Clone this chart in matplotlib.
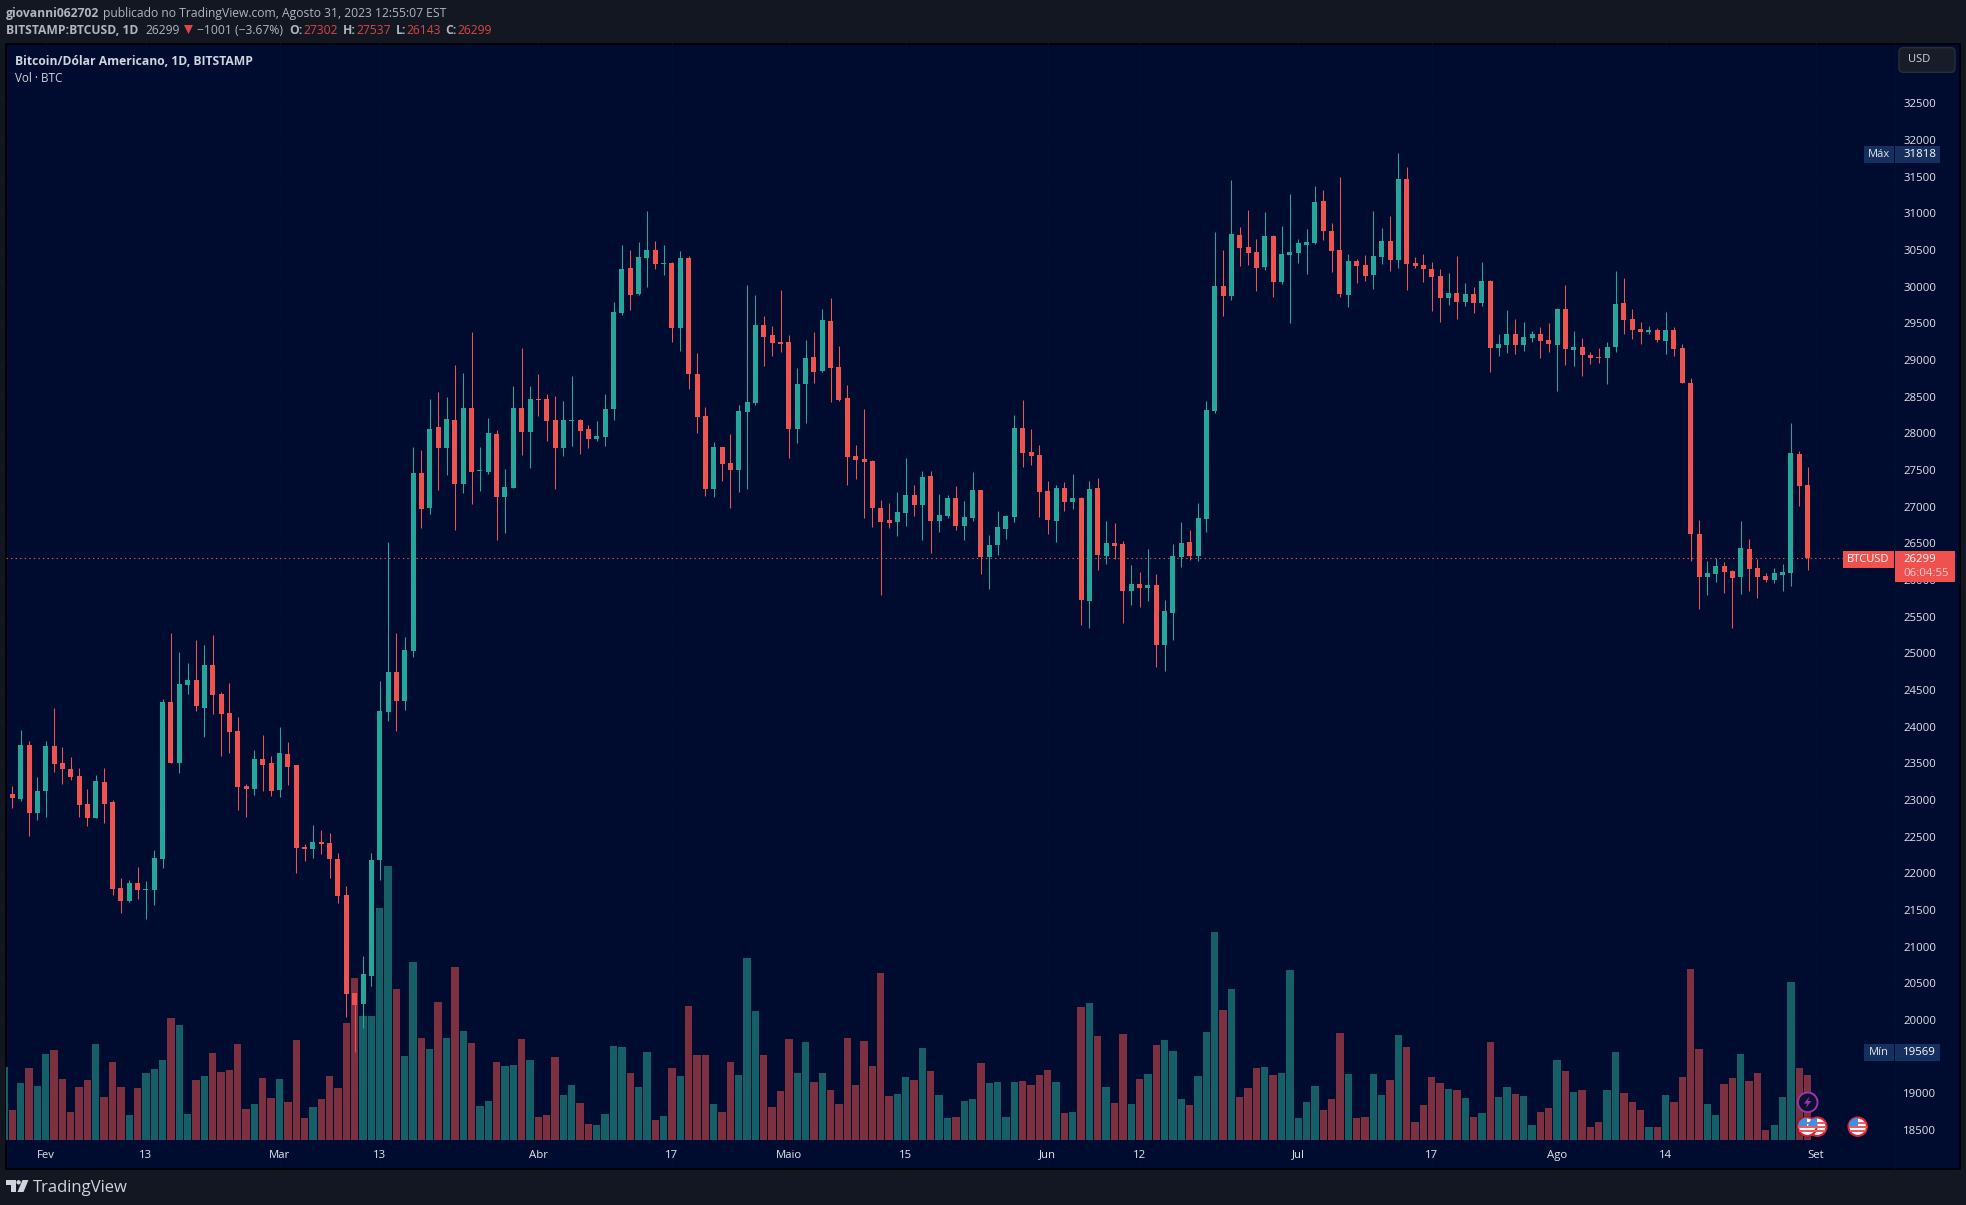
"""Recreate the BTCUSD daily candlestick chart as published on TradingView."""

from __future__ import annotations

import numpy as np
import pandas as pd
import matplotlib

matplotlib.use("Agg")
import matplotlib.pyplot as plt
from matplotlib.patches import Circle, FancyBboxPatch, Polygon, Rectangle

WIDTH, HEIGHT = 1966, 1205

BG = "#131722"
PANE = "#000c2f"
GRID = "#020f33"
UP = "#26a69a"
DOWN = "#ef5350"
UP_VOL = "#175f67"
DOWN_VOL = "#7d3040"
TEXT = "#d1d4dc"
TICK_TEXT = "#e3e5ec"
HEADER = "#b2b5be"
HEADER_RED = "#d9474a"
BADGE = "#14305f"

FIRST_DAY = "2023-01-28"

opens = [
    23082, 23014, 23750, 22823, 23123, 23736, 23504, 23423, 23327, 22945,
    22755, 23245, 22973, 21800, 21623, 21868, 21773, 21773, 22195, 24336,
    23504, 24568, 24636, 24254, 24841, 24445, 24186, 23941, 23191, 23150,
    23559, 23504, 23136, 23627, 23477, 22359, 22332, 22427, 22414, 22195,
    21705, 20368, 20218, 20600, 22182, 24200, 24745, 24350, 25032, 27460,
    26982, 28087, 27800, 28182, 27310, 28346, 27487, 27473, 27991, 27132,
    27255, 28346, 28019, 28469, 28469, 28182, 27800, 28168, 28182, 28060,
    27923, 27950, 28332, 29641, 30255, 29900, 30391, 30500, 30309, 30323,
    29437, 30391, 28809, 28237, 27241, 27814, 27596, 27500, 28291, 28414,
    29478, 29341, 29246, 29246, 28060, 28673, 29041, 28850, 29532, 28905,
    28483, 27692, 27651, 27624, 26983, 26819, 26792, 26914, 27160, 27024,
    27419, 26806, 26874, 27119, 26737, 26846, 27228, 26315, 26478, 26696,
    26860, 28074, 27746, 27705, 27215, 26806, 27255, 27064, 27119, 25715,
    27255, 26328, 26506, 26492, 25851, 25946, 25892, 25933, 25115, 25551,
    26315, 26519, 26328, 26833, 28305, 30009, 29873, 30705, 30541, 30473,
    30268, 30691, 30064, 30432, 30459, 30568, 30596, 31168, 30759, 30500,
    29887, 30350, 30296, 30159, 30405, 30623, 30364, 31468, 30323, 30296,
    30241, 30146, 29846, 29914, 29791, 29900, 29778, 30077, 29164, 29205,
    29355, 29205, 29300, 29355, 29273, 29205, 29696, 29136, 29178, 29068,
    29041, 29027, 29178, 29777, 29559, 29423, 29382, 29409, 29259, 29409,
    29164, 28687, 26628, 26041, 26082, 26191, 26123, 26041, 26423, 26164,
    26055, 26000, 26068, 26096, 27718, 27302,
]
highs = [
    23191, 23954, 23804, 23314, 23804, 24254, 23723, 23586, 23436, 23150,
    23341, 23436, 23000, 21936, 21909, 22086, 21895, 22318, 24377, 25277,
    25018, 24868, 25182, 25113, 25250, 24473, 24595, 24132, 23218, 23682,
    23886, 23600, 23995, 23791, 23477, 22400, 22659, 22591, 22550, 22277,
    21827, 20368, 20873, 22277, 24623, 26524, 25277, 25223, 27814, 27773,
    28469, 28564, 28496, 28932, 28823, 29382, 27814, 28209, 28046, 27514,
    28646, 29164, 28646, 28809, 28537, 28509, 28441, 28782, 28196, 28114,
    28168, 28537, 29791, 30568, 30500, 30609, 31032, 30623, 30568, 30337,
    30487, 30418, 29096, 28359, 27882, 27814, 27991, 28387, 30023, 29887,
    29600, 29464, 29955, 29341, 28891, 29273, 29382, 29696, 29846, 29191,
    28660, 27842, 28333, 27637, 27092, 27051, 27201, 27664, 27296, 27487,
    27487, 27174, 27160, 27283, 27078, 27474, 27228, 26615, 26942, 26887,
    28251, 28455, 28060, 27842, 27351, 27296, 27337, 27446, 27133, 27351,
    27392, 26805, 26778, 26533, 26206, 26110, 26424, 26083, 25728, 26492,
    26792, 26683, 27051, 28442, 30746, 30500, 31455, 30814, 31045, 30650,
    31018, 30705, 30827, 31264, 30650, 30786, 31373, 31318, 30868, 31495,
    30446, 30377, 30432, 31032, 30800, 30964, 31818, 31632, 30405, 30446,
    30337, 30241, 30187, 30418, 30050, 29996, 30337, 30091, 29355, 29682,
    29559, 29518, 29396, 29450, 29505, 29709, 30023, 29396, 29300, 29109,
    29164, 29245, 30214, 30118, 29696, 29518, 29464, 29436, 29655, 29450,
    29218, 28755, 26818, 26260, 26300, 26246, 26137, 26805, 26559, 26287,
    26096, 26164, 26218, 28141, 27759, 27537,
]
lows = [
    22891, 22986, 22509, 22727, 22768, 23382, 23218, 23273, 22768, 22646,
    22755, 22686, 21705, 21459, 21609, 21650, 21377, 21568, 22073, 23504,
    23368, 24445, 24213, 23859, 24173, 23600, 23641, 22864, 22768, 23068,
    23123, 23055, 23041, 23205, 22005, 22168, 22209, 22264, 21936, 21595,
    20041, 19569, 19895, 20464, 21909, 24077, 23941, 24227, 24950, 26710,
    26900, 27228, 27432, 26682, 27187, 27037, 27214, 27446, 26546, 26641,
    27255, 27705, 27528, 28237, 27896, 27241, 27691, 27828, 27719, 27800,
    27896, 27828, 28182, 29614, 29682, 29887, 29996, 30241, 30159, 29246,
    29123, 28605, 28005, 27146, 27132, 27350, 26982, 27200, 27241, 28387,
    28918, 29055, 29109, 27664, 27869, 28141, 28687, 28837, 28428, 28442,
    27296, 27378, 26846, 26724, 25796, 26710, 26601, 26737, 26874, 26546,
    26369, 26655, 26846, 26683, 26546, 26805, 26083, 25878, 26342, 26560,
    26792, 27542, 27569, 26860, 26628, 26519, 26942, 26969, 25387, 25346,
    26137, 26219, 26287, 25415, 25660, 25633, 25715, 24815, 24760, 25183,
    26178, 26274, 26260, 26655, 28278, 29600, 29818, 30282, 30296, 29941,
    30227, 29859, 30036, 29505, 30323, 30173, 30582, 30636, 30200, 29859,
    29723, 30050, 30077, 29968, 30309, 30214, 30255, 29955, 30255, 30064,
    29668, 29518, 29750, 29559, 29737, 29641, 29737, 28837, 29055, 29096,
    29082, 29123, 29246, 29028, 29109, 28578, 28932, 28918, 28782, 28946,
    28959, 28673, 29109, 29355, 29286, 29218, 29355, 29246, 29082, 29055,
    28687, 26260, 25605, 25796, 25973, 25823, 25346, 25809, 25850, 25755,
    25973, 25959, 25850, 25919, 27009, 26143,
]
closes = [
    23027, 23750, 22823, 23123, 23736, 23491, 23423, 23314, 22932, 22755,
    23259, 22945, 21786, 21623, 21868, 21773, 21786, 22209, 24336, 23504,
    24582, 24636, 24282, 24841, 24432, 24173, 23927, 23177, 23150, 23559,
    23477, 23123, 23641, 23450, 22345, 22332, 22427, 22400, 22195, 21691,
    20355, 20205, 20627, 22182, 24214, 24745, 24350, 25045, 27460, 26969,
    28060, 27800, 28196, 27310, 28346, 27473, 27500, 28005, 27132, 27269,
    28346, 28019, 28469, 28455, 28168, 27800, 28182, 28182, 28032, 27923,
    27964, 28332, 29655, 30241, 29887, 30405, 30500, 30309, 30323, 29437,
    30391, 28809, 28223, 27241, 27814, 27582, 27500, 28305, 28428, 29478,
    29314, 29232, 29219, 28060, 28673, 29028, 28837, 29546, 28891, 28455,
    27678, 27637, 27610, 26983, 26792, 26778, 26928, 27160, 27024, 27405,
    26806, 26887, 27119, 26737, 26860, 27228, 26315, 26478, 26724, 26874,
    28074, 27733, 27692, 27201, 26819, 27255, 27064, 27119, 25728, 27242,
    26342, 26506, 26465, 25851, 25946, 25892, 25933, 25115, 25578, 26328,
    26506, 26328, 26846, 28319, 30009, 29873, 30718, 30527, 30459, 30255,
    30691, 30064, 30446, 30473, 30596, 30609, 31155, 30759, 30486, 29900,
    30350, 30282, 30146, 30418, 30623, 30364, 31468, 30309, 30282, 30241,
    30132, 29846, 29914, 29791, 29900, 29778, 30077, 29164, 29218, 29355,
    29205, 29314, 29355, 29259, 29218, 29696, 29150, 29178, 29068, 29027,
    29027, 29178, 29764, 29546, 29409, 29382, 29409, 29273, 29409, 29150,
    28687, 26628, 26041, 26096, 26191, 26109, 26028, 26437, 26150, 26041,
    26000, 26096, 26109, 27732, 27282, 26299,
]
volumes = [
    90, 171, 216, 162, 258, 270, 183, 84, 159, 180,
    288, 129, 234, 159, 75, 156, 201, 213, 240, 366,
    345, 78, 180, 192, 261, 204, 210, 288, 93, 108,
    186, 126, 183, 114, 300, 66, 99, 123, 192, 156,
    351, 486, 372, 372, 696, 822, 453, 252, 534, 306,
    273, 414, 306, 519, 327, 291, 102, 117, 234, 222,
    225, 303, 240, 69, 75, 249, 135, 165, 111, 48,
    45, 78, 282, 279, 201, 159, 264, 60, 72, 216,
    192, 402, 255, 255, 108, 84, 234, 195, 546, 387,
    255, 99, 147, 303, 201, 294, 174, 201, 150, 108,
    306, 165, 297, 222, 501, 132, 138, 189, 180, 276,
    207, 135, 66, 69, 117, 123, 231, 171, 174, 69,
    174, 177, 165, 195, 210, 174, 81, 84, 399, 411,
    312, 159, 111, 318, 108, 183, 198, 285, 300, 267,
    123, 105, 192, 324, 624, 390, 453, 129, 156, 216,
    219, 195, 201, 510, 66, 114, 162, 90, 123, 321,
    198, 66, 69, 198, 135, 180, 315, 279, 54, 105,
    189, 171, 153, 150, 126, 69, 81, 294, 129, 159,
    138, 132, 45, 84, 96, 240, 207, 144, 150, 39,
    54, 150, 264, 141, 114, 90, 39, 39, 135, 114,
    189, 513, 273, 108, 75, 168, 186, 258, 177, 201,
    30, 45, 129, 474, 216, 195,
]
# bar of the day before the first candle, only its right edge is inside the pane
previous_volume = 220

price_ticks = list(range(18500, 33000, 500))
date_ticks = [
    "2023-02-01", "2023-02-13", "2023-03-01", "2023-03-13", "2023-04-01",
    "2023-04-17", "2023-05-01", "2023-05-15", "2023-06-01", "2023-06-12",
    "2023-07-01", "2023-07-17", "2023-08-01", "2023-08-14", "2023-09-01",
]
date_labels = [
    "Fev", "13", "Mar", "13", "Abr", "17", "Maio", "15", "Jun", "12",
    "Jul", "17", "Ago", "14", "Set",
]

last_price = 26299
max_price = 31818
min_price = 19569

PRICE_LIMITS = (17978, 33319)
X_LIMITS = (-0.72, 225.47)


def pixel_axes(fig, x0, y0, x1, y1, zorder):
    """Add axes given by their pixel box, y counted from the top of the image."""
    return fig.add_axes(
        [x0 / WIDTH, 1 - y1 / HEIGHT, (x1 - x0) / WIDTH, (y1 - y0) / HEIGHT],
        zorder=zorder,
    )


def screen_axes(fig, zorder):
    ax = pixel_axes(fig, 0, 0, WIDTH, HEIGHT, zorder)
    ax.set_xlim(0, WIDTH)
    ax.set_ylim(HEIGHT, 0)
    ax.axis("off")
    return ax


def draw_flag(ax, x, y):
    ax.add_patch(Circle((x, y), 10.5, fc=PANE, ec="none", zorder=4))
    ring = Circle((x, y), 9.2, fc="white", ec="#dc2430", lw=1.5, zorder=5)
    ax.add_patch(ring)
    for offset in (-4.5, -0.5, 3.5):
        stripe = Rectangle((x - 9, y + offset), 18, 2.2, fc="#ef5a5f", ec="none", zorder=5.1)
        ax.add_patch(stripe)
        stripe.set_clip_path(ring)
    canton = Rectangle((x - 9, y - 9), 9, 8.5, fc="#3f8fe6", ec="none", zorder=5.2)
    ax.add_patch(canton)
    canton.set_clip_path(ring)


def draw_header(ax):
    top = [
        (6.3, "giovanni062702", HEADER, "bold"),
        (102.7, "publicado no TradingView.com, Agosto 31, 2023 12:55:07 EST", HEADER, "normal"),
    ]
    bottom = [
        (6.3, "BITSTAMP:BTCUSD, 1D", HEADER, "bold"),
        (145.7, "26299", HEADER, "normal"),
        (197, "\u22121001 (\u22123.67%)", HEADER, "normal"),
        (289.3, "O:", HEADER, "bold"),
        (303, "27302", HEADER_RED, "normal"),
        (342.7, "H:", HEADER, "bold"),
        (356.7, "27537", HEADER_RED, "normal"),
        (395.7, "L:", HEADER, "bold"),
        (406.7, "26143", HEADER_RED, "normal"),
        (445.7, "C:", HEADER, "bold"),
        (457.3, "26299", HEADER_RED, "normal"),
    ]
    for y, row in ((13.7, top), (30.7, bottom)):
        for x, label, color, weight in row:
            ax.text(x, y, label, color=color, fontweight=weight, fontsize=8.7, va="center")
    ax.add_patch(Polygon([(184, 25), (193, 25), (188.5, 34)], fc=HEADER_RED, ec="none"))


def draw_badges(ax, price_ax):
    def price_y(price):
        return HEIGHT - price_ax.transData.transform((0, price))[1] + 1.2

    def box(x0, x1, y0, y1, color):
        ax.add_patch(Rectangle((x0, y0), x1 - x0, y1 - y0, fc=color, ec="none", zorder=6))

    for label, price in (("M\u00e1x", max_price), ("M\u00edn", min_price)):
        y = price_y(price)
        box(1864, 1894, y - 8.5, y + 8.5, BADGE)
        box(1895, 1940, y - 8.5, y + 8.5, BADGE)
        ax.text(1879, y, label, color=TICK_TEXT, fontsize=8, ha="center", va="center", zorder=7)
        ax.text(1903, y, str(price), color="white", fontsize=8.2, va="center", zorder=7)

    y = price_y(last_price)
    box(1843, 1894, y - 8.5, y + 8.5, "#f0514f")
    box(1895, 1955, y - 8.5, y + 22.5, "#f0514f")
    ax.text(1868.5, y, "BTCUSD", color="white", fontsize=8, ha="center", va="center", zorder=7)
    ax.text(1903, y, str(last_price), color="white", fontsize=8.2, va="center", zorder=7)
    ax.text(1903, y + 14.7, "06:04:55", color="#fbd0cf", fontsize=8.2, va="center", zorder=7)

    ax.add_patch(FancyBboxPatch(
        (1899, 47.7), 56, 24.6, boxstyle="round,pad=0,rounding_size=4",
        fc="#181c28", ec="#2a2e39", lw=1,
    ))
    ax.text(1908, 60, "USD", color=TEXT, fontsize=8, va="center")


def draw_logo(ax):
    ax.add_patch(Polygon(
        [(6, 1180), (16, 1180), (16, 1192), (11, 1192), (11, 1184.5), (6, 1184.5)],
        fc="#d1d4dc", ec="none",
    ))
    ax.add_patch(Circle((18.6, 1182.3), 2.2, fc="#d1d4dc", ec="none"))
    ax.add_patch(Polygon(
        [(22.5, 1180), (28.5, 1180), (23.5, 1192), (17.5, 1192)], fc="#d1d4dc", ec="none"
    ))
    ax.text(33, 1188, "TradingView", color="#d1d4dc", fontsize=12, va="center")


def main() -> None:
    plt.rcParams["font.family"] = ["Open Sans", "DejaVu Sans"]

    fig = plt.figure(figsize=(WIDTH / 100, HEIGHT / 100), dpi=100, facecolor=BG)

    back = screen_axes(fig, 0)
    back.add_patch(Rectangle((6, 43.5), 1953.5, 1125, fc=PANE, ec="black", lw=1.2))
    back.plot([1895, 1895], [44, 1168], color=GRID, lw=0.8)

    x = np.arange(len(closes))
    o, h, l, c = map(np.array, (opens, highs, lows, closes))
    rising = c >= o
    start = pd.Timestamp(FIRST_DAY)
    tick_positions = [(pd.Timestamp(day) - start).days for day in date_ticks]

    # the grid lies under the volume bars, so it gets its own axes
    grid_ax = pixel_axes(fig, 6.3, 43.3, 1895, 1168.3, 0.5)
    grid_ax.patch.set_visible(False)
    grid_ax.set_xlim(*X_LIMITS)
    grid_ax.set_ylim(*PRICE_LIMITS)
    grid_ax.set_xticks(tick_positions)
    grid_ax.set_yticks(price_ticks)
    grid_ax.tick_params(length=0, labelbottom=False, labelleft=False)
    grid_ax.grid(True, color=GRID, linewidth=0.7)
    for spine in grid_ax.spines.values():
        spine.set_visible(False)

    vol_ax = pixel_axes(fig, 6.3, 43.3, 1895, 1168.3, 1)
    vol_ax.patch.set_visible(False)
    vol_colors = np.where(rising, UP_VOL, DOWN_VOL)
    vol_ax.bar(x, volumes, width=0.88, color=vol_colors, linewidth=0)
    vol_ax.bar([-1], [previous_volume], width=0.88, color=UP_VOL, linewidth=0)
    vol_ax.set_xlim(*X_LIMITS)
    vol_ax.set_ylim(-85, 3290)
    vol_ax.axis("off")

    ax = pixel_axes(fig, 6.3, 43.3, 1895, 1168.3, 2)
    ax.patch.set_visible(False)
    ax.set_xlim(*X_LIMITS)
    ax.set_ylim(*PRICE_LIMITS)
    for spine in ax.spines.values():
        spine.set_visible(False)

    colors = np.where(rising, UP, DOWN)
    ax.vlines(x, l, h, colors=colors, linewidth=0.75, zorder=3)
    ax.bar(
        x,
        np.maximum(np.abs(c - o), 14),
        bottom=np.minimum(o, c),
        width=0.6,
        color=colors,
        linewidth=0,
        zorder=4,
    )
    ax.axhline(last_price, color=DOWN, lw=0.8, dashes=(1.2, 2.9), xmax=0.9752, zorder=2)

    ax.yaxis.tick_right()
    ax.set_yticks(price_ticks)
    ax.set_yticklabels([str(tick) for tick in price_ticks])
    ax.tick_params(axis="y", length=0, pad=6, labelsize=8.2, labelcolor=TICK_TEXT)
    ax.set_xticks(tick_positions)
    ax.set_xticklabels(date_labels)
    ax.tick_params(axis="x", length=0, pad=-13.5, labelsize=8.2, labelcolor=TICK_TEXT)

    top = screen_axes(fig, 3)
    draw_header(top)
    top.text(15.3, 61.7, "Bitcoin/D\u00f3lar Americano, 1D, BITSTAMP", color=TEXT,
             fontsize=8.7, fontweight="bold", va="center")
    top.text(15.3, 78.3, "Vol \u00b7 BTC", color=TEXT, fontsize=8.4, va="center")
    draw_badges(top, ax)
    draw_logo(top)

    # event markers sitting on the last candles
    draw_flag(top, 1817.3, 1126.7)
    draw_flag(top, 1807.3, 1126.7)
    draw_flag(top, 1857.7, 1126.7)
    top.add_patch(Circle((1807.7, 1102.3), 9.8, fc="#0b1230", ec="#9a35ad", lw=1.4, zorder=5))
    top.add_patch(Polygon(
        [(1809.5, 1096.5), (1804, 1103.5), (1807.3, 1103.5), (1805.8, 1108),
         (1811.3, 1101), (1808, 1101)],
        fc="#9a35ad", ec="none", zorder=6,
    ))

    fig.savefig("out.png", dpi=100, facecolor=BG)
    plt.close(fig)


if __name__ == "__main__":
    main()
